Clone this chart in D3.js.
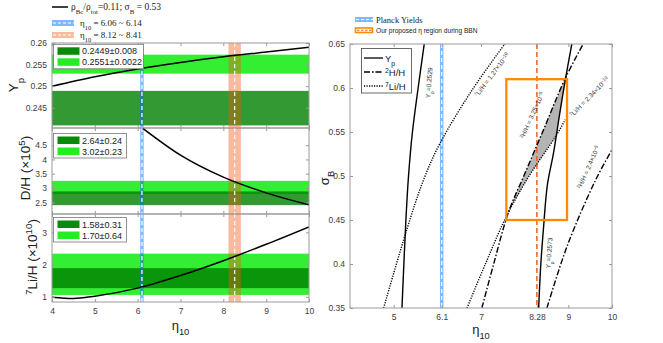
<!DOCTYPE html>
<html>
<head>
<meta charset="utf-8">
<script src="https://cdn.jsdelivr.net/npm/d3@7"></script>
<style>
  body { margin: 0; background: #fff; }
  svg { font-family: "Liberation Sans", Arial, sans-serif; }
</style>
</head>
<body>
<svg id="chart" width="663" height="343"></svg>
<script>
// ---------- data ----------
const etaTicks = [4, 5, 6, 7, 8, 9, 10];

// predicted abundances vs eta10 (left column)
const ypEta  = [4, 5, 6, 7, 8, 9, 10];
const ypVals = [0.2500, 0.2522, 0.2540, 0.2555, 0.2568, 0.2579, 0.2590];
const dhEta  = [6.12, 7, 8, 9, 10];
const dhVals = [5.09, 4.15, 3.38, 2.83, 2.41];
const liEta  = [4, 4.5, 5, 6, 7, 8, 9, 10];
const liVals = [0.99, 0.95, 1.02, 1.27, 1.66, 2.12, 2.63, 3.17];

// observed bands [dark, light]
const ypObs = [[0.2409, 0.2489], [0.2529, 0.2573]];
const ypObsText = ["0.2449\u00b10.008", "0.2551\u00b10.0022"];
const dhObs = [[2.40, 2.88], [2.79, 3.25]];
const dhObsText = ["2.64\u00b10.24", "3.02\u00b10.23"];
const liObs = [[1.27, 1.89], [1.06, 2.34]];
const liObsText = ["1.58\u00b10.31", "1.70\u00b10.64"];

const planckRange = [6.06, 6.14];
const proposedRange = [8.12, 8.41];

// right panel: contours in (eta10, sigma_B)
const rightTicks = [5, 6.1, 7, 8.28, 9, 10];
const sigmaTicks = [0.35, 0.4, 0.45, 0.5, 0.55, 0.6, 0.65];
const yp2529 = [[5.19, 0.35], [5.28, 0.45], [5.34, 0.50], [5.43, 0.55], [5.56, 0.60], [5.70, 0.65]];
const yp2573 = [[8.32, 0.35], [8.37, 0.40], [8.43, 0.44], [8.52, 0.49], [8.66, 0.526], [8.80, 0.57], [8.93, 0.609], [9.08, 0.65]];
const dh325  = [[7.02, 0.35], [7.29, 0.40], [7.63, 0.459], [7.98, 0.50], [8.41, 0.55], [8.93, 0.611], [9.34, 0.65]];
const dh24   = [[8.51, 0.35], [8.97, 0.42], [9.62, 0.495], [10, 0.53]];
const li127  = [[4.77, 0.35], [5.30, 0.439], [5.68, 0.495], [6.06, 0.537], [6.80, 0.598], [7.56, 0.651]];
const li234  = [[6.68, 0.35], [7.10, 0.40], [7.58, 0.454], [8.10, 0.50], [8.71, 0.545], [8.93, 0.564]];
const greyRegion = [[7.60, 0.457], [7.98, 0.50], [8.41, 0.55], [8.93, 0.611], [8.80, 0.57], [8.71, 0.545], [8.10, 0.50]];
const boxEta = [7.58, 8.97];
const boxSigma = [0.45, 0.61];
const planckEta = 6.1;
const proposedEta = 8.28;

// ---------- helpers ----------
const svg = d3.select("#chart");
const frameCol = "#9a9a9a", tickTxt = "#3c3c3c";
const darkG = "rgba(0,128,0,0.8)", lightG = "#33ee33";
const blueBand = "rgba(0,114,255,0.5)", salmonBand = "rgba(240,85,18,0.4)";

// parts: [[text, "sub"|"sup"|undefined], ...]
function rich(t, parts, fs) {
  parts.forEach(p => {
    let ts = t.append("tspan").text(p[0]);
    if (p[1] == "sub") ts.attr("baseline-shift", "sub").style("font-size", (fs * 0.72) + "px");
    if (p[1] == "sup") ts.attr("baseline-shift", "super").style("font-size", (fs * 0.72) + "px");
  });
  return t;
}

function frame(g, x, y, xt, yt, showX, yfmt) {
  let [x0, x1] = x.range(), [y0, y1] = y.range();
  g.append("g").attr("transform", `translate(0,${y0})`)
    .call(d3.axisBottom(x).tickValues(xt).tickSize(-3).tickSizeOuter(0).tickPadding(6)
      .tickFormat(showX ? (d => String(d)) : ""));
  g.append("g").attr("transform", `translate(0,${y1})`)
    .call(d3.axisTop(x).tickValues(xt).tickSize(-3).tickSizeOuter(0).tickFormat(""));
  g.append("g").attr("transform", `translate(${x0},0)`)
    .call(d3.axisLeft(y).tickValues(yt).tickSize(-3).tickSizeOuter(0).tickPadding(5).tickFormat(yfmt));
  g.append("g").attr("transform", `translate(${x1},0)`)
    .call(d3.axisRight(y).tickValues(yt).tickSize(-3).tickSizeOuter(0).tickFormat(""));
  g.selectAll(".domain").remove();
  g.selectAll(".tick line").attr("stroke", frameCol);
  g.selectAll(".tick text").attr("fill", tickTxt).style("font-size", "8.5px");
  g.append("rect").attr("x", x0).attr("y", y1).attr("width", x1 - x0).attr("height", y0 - y1)
    .attr("fill", "none").attr("stroke", frameCol).attr("stroke-width", 1);
}

// ---------- left column ----------
const xL = d3.scaleLinear().domain([4, 10]).range([52, 309]);
const panels = [
  {top: 43, bot: 128, domain: [0.2403, 0.26], ticks: [0.245, 0.25, 0.255, 0.26],
   eta: ypEta, vals: ypVals, obs: ypObs, txt: ypObsText, legTop: 44.3, legW: 90},
  {top: 128, bot: 214, domain: [2.09, 5.10], ticks: [2.5, 3, 3.5, 4, 4.5],
   eta: dhEta, vals: dhVals, obs: dhObs, txt: dhObsText, legTop: 133.5, legW: 73},
  {top: 214, bot: 302, domain: [0.84, 3.57], ticks: [1, 2, 3],
   eta: liEta, vals: liVals, obs: liObs, txt: liObsText, legTop: 217.5, legW: 73}
];

panels.forEach((p, i) => {
  let y = d3.scaleLinear().domain(p.domain).range([p.bot, p.top]);
  let g = svg.append("g");
  let clipId = "clipL" + i;
  g.append("clipPath").attr("id", clipId).append("rect")
    .attr("x", xL(4)).attr("y", p.top).attr("width", xL(10) - xL(4)).attr("height", p.bot - p.top);
  let inner = g.append("g").attr("clip-path", `url(#${clipId})`);

  // observation bands: light first then dark
  [1, 0].forEach(k => {
    inner.append("rect").attr("x", xL(4)).attr("width", xL(10) - xL(4))
      .attr("y", y(p.obs[k][1])).attr("height", y(p.obs[k][0]) - y(p.obs[k][1]))
      .attr("fill", k == 0 ? darkG : lightG);
  });
  // vertical eta bands
  [[planckRange, blueBand], [proposedRange, salmonBand]].forEach(b => {
    inner.append("rect").attr("x", xL(b[0][0])).attr("width", xL(b[0][1]) - xL(b[0][0]))
      .attr("y", p.top).attr("height", p.bot - p.top).attr("fill", b[1]);
    let c = (b[0][0] + b[0][1]) / 2;
    inner.append("line").attr("x1", xL(c)).attr("x2", xL(c)).attr("y1", p.top).attr("y2", p.bot)
      .attr("stroke", "#fff").attr("stroke-width", 1.2).attr("stroke-dasharray", "4,3");
  });
  // predicted curve
  let line = d3.line().x((d, j) => xL(p.eta[j])).y(d => y(d)).curve(d3.curveMonotoneX);
  inner.append("path").datum(p.vals).attr("d", line)
    .attr("fill", "none").attr("stroke", "#000").attr("stroke-width", 1.5);

  frame(g, xL, y, etaTicks, p.ticks, i == 2, d => String(d));

  // legend
  let lg = g.append("g");
  lg.append("rect").attr("x", 53.5).attr("y", p.legTop).attr("width", p.legW).attr("height", 24.5)
    .attr("fill", "#fff").attr("stroke", "#777").attr("stroke-width", 0.8);
  p.txt.forEach((t, k) => {
    let ry = p.legTop + 3 + k * 11;
    lg.append("rect").attr("x", 57.5).attr("y", ry).attr("width", 22).attr("height", 7.5)
      .attr("fill", k == 0 ? "#0a8a0a" : "#22ee22");
    lg.append("text").attr("x", 82).attr("y", ry + 7).text(t)
      .style("font-size", "9px").attr("fill", "#222");
  });
});

// y labels of the left column
rich(svg.append("text").attr("transform", "translate(18,85) rotate(-90)").attr("text-anchor", "middle")
  .style("font-size", "13.5px").attr("fill", "#222"), [["Y"], ["p", "sub"]], 13.5);
rich(svg.append("text").attr("transform", "translate(30,168) rotate(-90)").attr("text-anchor", "middle")
  .style("font-size", "13.5px").attr("fill", "#222"), [["D/H (\u00d710"], ["5", "sup"], [")"]], 13.5);
rich(svg.append("text").attr("transform", "translate(37,257) rotate(-90)").attr("text-anchor", "middle")
  .style("font-size", "13.5px").attr("fill", "#222"), [["7", "sup"], ["Li/H (\u00d710"], ["10", "sup"], [")"]], 13.5);
rich(svg.append("text").attr("x", xL(7)).attr("y", 330).attr("text-anchor", "middle")
  .style("font-size", "13px").attr("fill", "#222"), [["\u03b7"], ["10", "sub"]], 13);

// top-left legend
let tl = svg.append("g").style("font-family", "'Liberation Serif', 'Times New Roman', serif").attr("fill", "#222");
tl.append("line").attr("x1", 52).attr("x2", 68).attr("y1", 7).attr("y2", 7).attr("stroke", "#000").attr("stroke-width", 1.5);
rich(tl.append("text").attr("x", 71).attr("y", 10).style("font-size", "9.5px"),
  [["\u03c1"], ["Bc", "sub"], ["/\u03c1"], ["tot", "sub"], ["=0.11; \u03c3"], ["B", "sub"], [" = 0.53"]], 9.5);
[[planckRange, blueBand, 23], [proposedRange, salmonBand, 35]].forEach(r => {
  tl.append("rect").attr("x", 52).attr("y", r[2] - 3).attr("width", 22).attr("height", 6).attr("fill", r[1]);
  tl.append("line").attr("x1", 53).attr("x2", 74).attr("y1", r[2]).attr("y2", r[2])
    .attr("stroke", "#fff").attr("stroke-width", 1.2).attr("stroke-dasharray", "3,2");
  rich(tl.append("text").attr("x", 80).attr("y", r[2] + 3).style("font-size", "9px"),
    [["\u03b7"], ["10", "sub"], [` = ${r[0][0].toFixed(2)} ~ ${r[0][1].toFixed(2)}`]], 9);
});

// ---------- right panel ----------
const xR = d3.scaleLinear().domain([4, 10]).range([350, 612]);
const yR = d3.scaleLinear().domain([0.35, 0.65]).range([308, 44]);
let rg = svg.append("g");
rg.append("clipPath").attr("id", "clipR").append("rect")
  .attr("x", 350).attr("y", 44).attr("width", 262).attr("height", 264);
let ri = rg.append("g").attr("clip-path", "url(#clipR)");

ri.append("path").datum(greyRegion)
  .attr("d", d3.line().x(d => xR(d[0])).y(d => yR(d[1])).curve(d3.curveLinearClosed))
  .attr("fill", "#b4b4b4").attr("stroke", "none");

// Planck band
ri.append("rect").attr("x", xR(planckRange[0])).attr("width", xR(planckRange[1]) - xR(planckRange[0]))
  .attr("y", 44).attr("height", 264).attr("fill", blueBand);
ri.append("line").attr("x1", xR(planckEta)).attr("x2", xR(planckEta)).attr("y1", 44).attr("y2", 308)
  .attr("stroke", "#fff").attr("stroke-width", 1.2).attr("stroke-dasharray", "4,3");

// proposed eta
ri.append("line").attr("x1", xR(proposedEta)).attr("x2", xR(proposedEta)).attr("y1", 44).attr("y2", 308)
  .attr("stroke", "#ff5a1f").attr("stroke-width", 1.5).attr("stroke-dasharray", "5,3");

const cline = d3.line().x(d => xR(d[0])).y(d => yR(d[1])).curve(d3.curveCatmullRom.alpha(0.5));
const styles = {solid: null, dashdot: "6,2,1.5,2", dotted: "1.2,1.3"};
[[yp2529, "solid"], [yp2573, "solid"], [dh325, "dashdot"], [dh24, "dashdot"], [li127, "dotted"], [li234, "dotted"]]
  .forEach(c => {
    ri.append("path").datum(c[0]).attr("d", cline).attr("fill", "none")
      .attr("stroke", "#000").attr("stroke-width", 1.4)
      .attr("stroke-dasharray", styles[c[1]]);
  });

// orange box
ri.append("rect").attr("x", xR(boxEta[0])).attr("y", yR(boxSigma[1]))
  .attr("width", xR(boxEta[1]) - xR(boxEta[0])).attr("height", yR(boxSigma[0]) - yR(boxSigma[1]))
  .attr("fill", "none").attr("stroke", "#ff8a00").attr("stroke-width", 2.3);

// contour labels
const labels = [
  {eta: 5.81, s: 0.606, a: -86, parts: [["Y"], ["p", "sub"], ["=0.2529"]]},
  {eta: 8.56, s: 0.4125, a: -86, parts: [["Y"], ["p", "sub"], ["=0.2573"]]},
  {eta: 7.25, s: 0.615, a: -53, parts: [["7", "sup"], ["Li/H = 1.27\u00d710"], ["\u221210", "sup"]]},
  {eta: 8.17, s: 0.569, a: -66, parts: [["2", "sup"], ["H/H = 3.25\u00d710"], ["\u22125", "sup"]]},
  {eta: 9.48, s: 0.59, a: -46, parts: [["7", "sup"], ["Li/H = 2.34\u00d710"], ["\u221210", "sup"]]},
  {eta: 9.46, s: 0.51, a: -66, parts: [["2", "sup"], ["H/H = 2.4\u00d710"], ["\u22125", "sup"]]}
];
labels.forEach(l => {
  rich(ri.append("text").attr("transform", `translate(${xR(l.eta)},${yR(l.s)}) rotate(${l.a})`)
    .attr("text-anchor", "middle").attr("dy", "0.35em").style("font-size", "6.5px").attr("fill", "#333"), l.parts, 6.5);
});

frame(rg, xR, yR, rightTicks, sigmaTicks, true, d => String(d));

// legend inside right panel
let rl = rg.append("g");
rl.append("rect").attr("x", 361.5).attr("y", 48.5).attr("width", 50).attr("height", 44.5)
  .attr("fill", "#fff").attr("stroke", "#444").attr("stroke-width", 0.8);
[["solid", [["Y"], ["p", "sub"]], 58], ["dashdot", [["2", "sup"], ["H/H"]], 72], ["dotted", [["7", "sup"], ["Li/H"]], 86]]
  .forEach(e => {
    rl.append("line").attr("x1", 364).attr("x2", 383).attr("y1", e[2]).attr("y2", e[2])
      .attr("stroke", "#000").attr("stroke-width", 1.3).attr("stroke-dasharray", styles[e[0]]);
    rich(rl.append("text").attr("x", 385).attr("y", e[2] + 3.5).style("font-size", "9.5px").attr("fill", "#222"), e[1], 9.5);
  });

// axis labels right
rich(svg.append("text").attr("transform", "translate(329,178) rotate(-90)").attr("text-anchor", "middle")
  .style("font-size", "13px").attr("fill", "#222"), [["\u03c3"], ["B", "sub"]], 13);
rich(svg.append("text").attr("x", 481).attr("y", 334).attr("text-anchor", "middle")
  .style("font-size", "13px").attr("fill", "#222"), [["\u03b7"], ["10", "sub"]], 13);

// top-right legend
let tr = svg.append("g").attr("fill", "#222");
tr.append("rect").attr("x", 355).attr("y", 17).attr("width", 18).attr("height", 5).attr("fill", blueBand);
tr.append("line").attr("x1", 356).attr("x2", 373).attr("y1", 19.5).attr("y2", 19.5)
  .attr("stroke", "#fff").attr("stroke-width", 1.1).attr("stroke-dasharray", "3,2");
tr.append("text").attr("x", 376).attr("y", 22.5).text("Planck Yields")
  .style("font-family", "'Liberation Serif', 'Times New Roman', serif").style("font-size", "8.5px");
tr.append("rect").attr("x", 355.5).attr("y", 28).attr("width", 17).attr("height", 4.5)
  .attr("fill", "#fff").attr("stroke", "#ff8a00").attr("stroke-width", 1.6);
tr.append("line").attr("x1", 357).attr("x2", 372).attr("y1", 30.25).attr("y2", 30.25)
  .attr("stroke", "#ff5a1f").attr("stroke-width", 1).attr("stroke-dasharray", "2.5,1.5");
rich(tr.append("text").attr("x", 376).attr("y", 33).style("font-size", "6.6px"),
  [["Our proposed \u03b7 region during BBN"]], 6.6);
</script>
</body>
</html>
